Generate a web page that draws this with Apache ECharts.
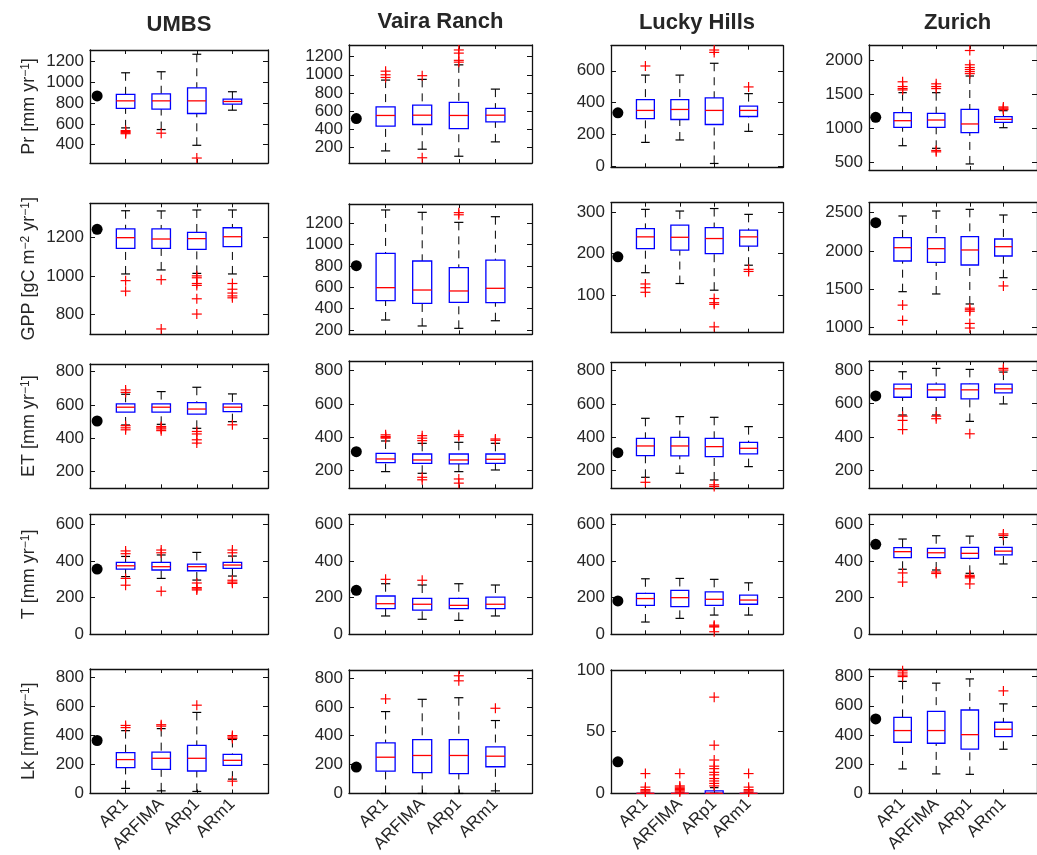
<!DOCTYPE html>
<html><head><meta charset="utf-8">
<script src="https://cdn.jsdelivr.net/npm/echarts@6/dist/echarts.min.js"></script>
<style>html,body{margin:0;padding:0;background:#fff}#c{width:1037px;height:855px}</style>
</head><body><div id="c"></div>
<script>
// ---------------- DATA ----------------
const sites = ['UMBS', 'Vaira Ranch', 'Lucky Hills', 'Zurich'];
const models = ['AR1', 'ARFIMA', 'ARp1', 'ARm1'];

// observed values (black dot), per site
const obsPr  = [870, 515, 337, 1168];
const obsGPP = [1244, 803, 192, 2369];
const obsET  = [503, 314, 308, 646];
const obsT   = [356, 240, 182, 491];
const obsLk  = [366, 183, 25.5, 510];

// box statistics per site, per model: [lower whisker, q1, median, q3, upper whisker]
const boxPr = [
  [[561,749,822,884,1093],[545,742,822,890,1103],[393,700,822,948,1272],[732,790,816,839,910]],
  [[156,430,549,645,941],[175,449,552,663,949],[97,404,549,693,1110],[256,478,552,627,841]],
  [[152,300,352,420,573],[167,295,358,420,573],[20,264,352,430,647],[221,314,352,379,457]],
  [[750,1021,1118,1236,1530],[712,1021,1128,1227,1530],[482,942,1070,1285,1775],[1015,1094,1138,1177,1265]]
];
const boxGPP = [
  [[1010,1144,1200,1246,1341],[1031,1144,1193,1246,1340],[1013,1139,1195,1228,1345],[1010,1153,1205,1252,1345]],
  [[294,475,597,919,1325],[238,450,575,847,1303],[216,460,566,784,1209],[287,456,591,856,1262]],
  [[154,212,240,260,306],[128,208,239,268,302],[112,200,236,262,308],[172,218,240,256,294]],
  [[1466,1868,2042,2173,2457],[1436,1851,2029,2173,2522],[1305,1815,2012,2186,2544],[1649,1933,2055,2156,2470]]
];
const boxET = [
  [[479,556,586,606,664],[483,556,586,606,680],[459,544,575,613,706],[499,559,586,606,666]],
  [[194,248,270,304,378],[184,244,264,300,364],[194,240,264,300,370],[204,244,268,300,364]],
  [[160,290,348,394,514],[184,288,348,400,524],[144,284,344,394,520],[224,300,334,370,464]],
  [[532,638,688,716,790],[532,638,682,716,810],[494,628,682,718,804],[598,664,688,716,788]]
];
const boxT = [
  [[315,356,374,393,425],[305,351,369,393,433],[296,347,369,383,447],[318,360,378,393,427]],
  [[100,140,167,209,276],[82,132,164,196,269],[76,140,158,196,276],[100,140,164,203,269]],
  [[67,158,195,223,303],[87,151,200,240,305],[105,158,191,232,300],[105,164,187,214,281]],
  [[355,418,451,473,520],[351,418,445,469,538],[333,414,442,475,536],[384,433,454,475,529]]
];
const boxLk = [
  [[35,179,234,282,434],[18,167,243,286,448],[14,155,243,332,560],[99,194,229,270,373]],
  [[0,155,251,350,567],[0,144,263,373,652],[0,137,263,373,663],[18,185,258,323,505]],
  [[0,0,0,0,0],[0,0,0,0,0],[0,0,0,2,4.6],[0,0,0,0,0]],
  [[167,350,430,521,767],[133,343,430,562,755],[130,303,402,571,784],[302,389,439,487,613]]
];

// outliers (red +) per site, per model
const outPr = [
  [[535,525,515,505],[510],[270],[]],
  [[1040,1000,970],[990,80],[1275,1240,1160,1140],[]],
  [[630],[],[730,715],[499]],
  [[1690,1620,1590,1570],[1660,1620,1590,680,660],[2150,1940,1900,1870,1840,1810],[1320,1305,1290,1280]]
];
const outGPP = [
  [[975,920],[980,722],[1000,990,960,950,880,800],[960,930,910,895,885]],
  [[],[],[1300,1280],[]],
  [[127,118,107],[],[92,82,78,24],[162,157]],
  [[1290,1090],[],[1250,1230,1210,1050,990],[1541]]
];
const outET = [
  [[690,675,475,462,450],[470,462,455,445],[440,425,390,370],[480]],
  [[415,405,400,395],[410,395,380,160,145],[415,405,150,125],[390,382]],
  [[130],[],[115,105],[]],
  [[525,500,445],[525,510],[420],[810,800]]
];
const outT = [
  [[455,440,305,268],[460,445,235],[280,255,248,242],[460,445,295,285,278]],
  [[300],[295],[],[]],
  [[],[],[50,44,40,14],[]],
  [[335,285],[340,332],[322,315,308,275],[548,540]]
];
const outLk = [
  [[470,455],[475,465],[610],[400,390,380,85]],
  [[655],[],[815,780],[590]],
  [[16,5,3,2,1],[16,6,5,4,3,2,1],[78,39,27,22,20,17,15,12,10,8,6],[16,5,3,2,1]],
  [[840,825,810,800],[],[],[702]]
];

// y-axis limits per site
const rangePr  = [[222,1313],[22,1330],[-4,757],[393,2231]];
const rangeGPP = [[694,1380],[160,1381],[10,322],[908,2631]];
const rangeET  = [[98,846],[94,858],[94,850],[95,854]];
const rangeT   = [[0,655],[0,655],[0,655],[0,655]];
const rangeLk  = [[0,860],[0,855],[0,100],[0,852]];

// y tick labels per site
const ticksPr  = [[400,600,800,1000,1200],[200,400,600,800,1000,1200],[0,200,400,600],[500,1000,1500,2000]];
const ticksGPP = [[800,1000,1200],[200,400,600,800,1000,1200],[100,200,300],[1000,1500,2000,2500]];
const ticksET  = [[200,400,600,800],[200,400,600,800],[200,400,600,800],[200,400,600,800]];
const ticksT   = [[0,200,400,600],[0,200,400,600],[0,200,400,600],[0,200,400,600]];
const ticksLk  = [[0,200,400,600,800],[0,200,400,600,800],[0,50,100],[0,200,400,600,800]];

const obsX = 0.2; // position of observed dot on the x scale

// ---------------- LAYOUT ----------------
const FONT = '"Liberation Sans", Arial, Helvetica, sans-serif';
const TXT = '#262626';
const AX = '#111111';
const colLeft = [90, 349, 611, 869];
const colWidth = [178, 183, 172, 177];
const rowTops = [[50,45,45.7,45],[203.3,204,202.7,202.7],[364,361,362.3,361],[514.3,514.3,514.3,514.3],[669,670,670,669]];
const rowBottoms = [[163,163,167.3,170],[334.3,334.3,332.7,334.3],[488.3,488.3,488.3,488.3],[634.3,634.3,634.3,634.3],[794.3,795,793.3,793.3]];
const titleY = [25, 22, 22.7, 22.7];

const rows = [
  {name: 'Pr [mm yr{s|−1}]', obs: obsPr, box: boxPr, out: outPr, range: rangePr, ticks: ticksPr},
  {name: 'GPP [gC m{s|−2} yr{s|−1}]', obs: obsGPP, box: boxGPP, out: outGPP, range: rangeGPP, ticks: ticksGPP},
  {name: 'ET [mm yr{s|−1}]', obs: obsET, box: boxET, out: outET, range: rangeET, ticks: ticksET},
  {name: 'T [mm yr{s|−1}]', obs: obsT, box: boxT, out: outT, range: rangeT, ticks: ticksT},
  {name: 'Lk [mm yr{s|−1}]', obs: obsLk, box: boxLk, out: outLk, range: rangeLk, ticks: ticksLk}
];

function renderBox(params, api) {
  const x = api.value(0);
  const v = [api.value(1), api.value(2), api.value(3), api.value(4), api.value(5)];
  const hw = 0.26, cw = 0.125;
  const P = (a, b) => api.coord([a, b]);
  const top = P(x, v[4]), q3 = P(x, v[3]), q1 = P(x, v[1]), bot = P(x, v[0]);
  const L = P(x - hw, v[2])[0], R = P(x + hw, v[2])[0];
  const cl = P(x - cw, v[2])[0], cr = P(x + cw, v[2])[0];
  const med = P(x, v[2])[1];
  const ws = {stroke: '#000', lineWidth: 1, lineDash: [8, 6], fill: 'none'};
  const cs = {stroke: '#000', lineWidth: 1.2, fill: 'none'};
  return {type: 'group', children: [
    {type: 'line', shape: {x1: top[0], y1: top[1], x2: q3[0], y2: q3[1]}, style: ws},
    {type: 'line', shape: {x1: bot[0], y1: bot[1], x2: q1[0], y2: q1[1]}, style: ws},
    {type: 'line', shape: {x1: cl, y1: top[1], x2: cr, y2: top[1]}, style: cs},
    {type: 'line', shape: {x1: cl, y1: bot[1], x2: cr, y2: bot[1]}, style: cs},
    {type: 'rect', shape: {x: L, y: q3[1], width: R - L, height: q1[1] - q3[1]}, style: {stroke: '#0000ff', lineWidth: 1.3, fill: 'none'}},
    {type: 'line', shape: {x1: L, y1: med, x2: R, y2: med}, style: {stroke: '#ff0000', lineWidth: 1.3}}
  ]};
}
function renderPlus(params, api) {
  const p = api.coord([api.value(0), api.value(1)]);
  const s = 5;
  const st = {stroke: '#ff0000', lineWidth: 1.2};
  return {type: 'group', children: [
    {type: 'line', shape: {x1: p[0] - s, y1: p[1], x2: p[0] + s, y2: p[1]}, style: st},
    {type: 'line', shape: {x1: p[0], y1: p[1] - s, x2: p[0], y2: p[1] + s}, style: st}
  ]};
}

const grid = [], xAxis = [], yAxis = [], series = [];
const lineSt = {color: AX, width: 1.3};
rows.forEach((row, r) => {
  for (let c = 0; c < 4; c++) {
    const gi = grid.length;
    grid.push({left: colLeft[c], top: rowTops[r][c], width: colWidth[c], height: rowBottoms[r][c] - rowTops[r][c]});
    const isBottom = r === rows.length - 1;
    const xTick = {show: true, inside: true, length: 4, customValues: [1, 2, 3, 4], lineStyle: {color: AX}};
    xAxis.push({gridIndex: gi, type: 'value', min: 0, max: 5, position: 'bottom',
      axisLine: {onZero: false, lineStyle: lineSt}, axisTick: xTick, splitLine: {show: false},
      axisLabel: isBottom ? {show: true, customValues: [1, 2, 3, 4], formatter: v => models[Math.round(v) - 1] || '',
        rotate: 45, fontSize: 17, color: TXT, fontFamily: FONT, margin: 8} : {show: false}});
    xAxis.push({gridIndex: gi, type: 'value', min: 0, max: 5, position: 'top',
      axisLine: {onZero: false, lineStyle: lineSt}, axisTick: xTick, splitLine: {show: false}, axisLabel: {show: false}});
    const yTick = {show: true, inside: true, length: 5, customValues: row.ticks[c], lineStyle: {color: AX}};
    yAxis.push({gridIndex: gi, type: 'value', min: row.range[c][0], max: row.range[c][1], position: 'left',
      axisLine: {show: true, onZero: false, lineStyle: lineSt}, axisTick: yTick, splitLine: {show: false},
      axisLabel: {customValues: row.ticks[c], formatter: v => String(v), fontSize: 17, color: TXT, fontFamily: FONT, margin: 6},
      name: c === 0 ? row.name : '', nameLocation: 'middle', nameGap: 52,
      nameTextStyle: {fontSize: 18, color: TXT, fontFamily: FONT,
        rich: {s: {fontSize: 12, color: TXT, fontFamily: FONT, verticalAlign: 'top', lineHeight: 12}}}});
    yAxis.push({gridIndex: gi, type: 'value', min: row.range[c][0], max: row.range[c][1], position: 'right',
      axisLine: {show: true, onZero: false, lineStyle: lineSt}, axisTick: yTick, splitLine: {show: false}, axisLabel: {show: false}});
    const xi = 2 * gi, yi = 2 * gi;
    series.push({type: 'custom', xAxisIndex: xi, yAxisIndex: yi, renderItem: renderBox, silent: true, z: 2,
      data: row.box[c].map((b, i) => [i + 1].concat(b)), encode: {x: 0, y: [1, 2, 3, 4, 5]}});
    const outs = [];
    row.out[c].forEach((arr, i) => arr.forEach(val => outs.push([i + 1, val])));
    series.push({type: 'custom', xAxisIndex: xi, yAxisIndex: yi, renderItem: renderPlus, silent: true, z: 3,
      data: outs, encode: {x: 0, y: 1}});
    series.push({type: 'scatter', xAxisIndex: xi, yAxisIndex: yi, silent: true, z: 4,
      data: [[obsX, row.obs[c]]], symbol: 'circle', symbolSize: 11, itemStyle: {color: '#000', opacity: 1}});
  }
});

const graphic = sites.map((s, c) => ({type: 'text', x: colLeft[c] + colWidth[c] / 2, y: titleY[c],
  style: {text: s, font: 'bold 22px ' + FONT, fill: TXT, textAlign: 'center', textVerticalAlign: 'middle'}}));

const chart = echarts.init(document.getElementById('c'), null, {renderer: 'canvas'});
chart.setOption({animation: false, backgroundColor: '#fff', grid, xAxis, yAxis, series, graphic});
</script>
</body></html>
